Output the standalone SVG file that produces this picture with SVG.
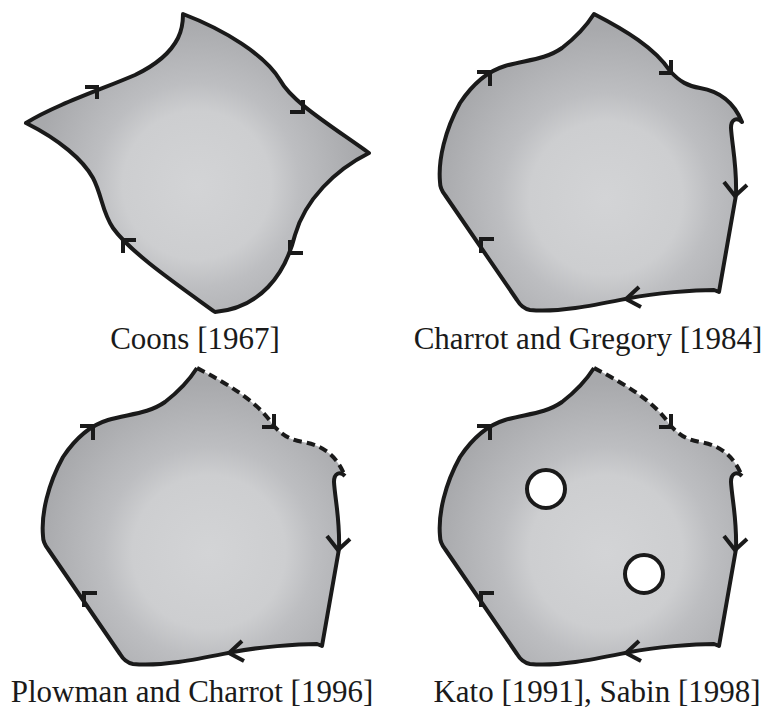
<svg xmlns="http://www.w3.org/2000/svg" xmlns:xlink="http://www.w3.org/1999/xlink" width="774" height="710" viewBox="0 0 774 710">
<style>
.shape{stroke:#1a1a1a;stroke-width:4;stroke-linejoin:round;stroke-linecap:round}
.fillonly{stroke:none}
.edge{fill:none;stroke:#1a1a1a;stroke-width:4;stroke-linejoin:round;stroke-linecap:butt}
.dashed{stroke-dasharray:8.5 5}
.arrow{fill:none;stroke:#1a1a1a;stroke-width:4;stroke-linejoin:miter;stroke-linecap:butt}
.hole{fill:#ffffff;stroke:#1a1a1a;stroke-width:4}
.label{font-family:"Liberation Serif","Times New Roman",serif;font-size:31px;fill:#1a1a1a;text-anchor:middle}
</style>
<defs>
<radialGradient id="gCoons" gradientUnits="userSpaceOnUse" cx="197" cy="185" r="165">
<stop offset="0" stop-color="#d3d4d6"/>
<stop offset="0.45" stop-color="#cdced0"/>
<stop offset="0.62" stop-color="#bdbec1"/>
<stop offset="1" stop-color="#a8a9ac"/>
</radialGradient>
<radialGradient id="gCG" gradientUnits="userSpaceOnUse" cx="606" cy="198" r="170">
<stop offset="0" stop-color="#d3d4d6"/>
<stop offset="0.45" stop-color="#cdced0"/>
<stop offset="0.62" stop-color="#bdbec1"/>
<stop offset="1" stop-color="#a8a9ac"/>
</radialGradient>
<path id="cgOutline" d="M594,14 C625,30 655,48 670,71 C680,82 688,86 700,88 C718,91 733,100 742,122 C737,117 731,119 731,128 C732,145 737,165 736,195 L719,292 L714,290 C695,290 655,293 630,298 C600,304 560,313 530,310 C524,309 520,305 517,300 L445,195 C441,190 440,186 440,182 C438,160 445,130 460,103 C470,88 485,72 505,66 C525,60 545,60 562,48 C575,38 587,25 594,14 Z"/>
<path id="cgTop" d="M594,14 C625,30 655,48 670,71 C680,82 688,86 700,88 C718,91 733,100 742,122"/>
<path id="cgRest" d="M742,122 C737,117 731,119 731,128 C732,145 737,165 736,195 L719,292 L714,290 C695,290 655,293 630,298 C600,304 560,313 530,310 C524,309 520,305 517,300 L445,195 C441,190 440,186 440,182 C438,160 445,130 460,103 C470,88 485,72 505,66 C525,60 545,60 562,48 C575,38 587,25 594,14"/>
<g id="cgArrows">
<path class="arrow" d="M477,72 L490,72 L490,86"/>
<path class="arrow" d="M659,73 L671,73 L671,60"/>
<path class="arrow" d="M724,182 L735,196 L747,185"/>
<path class="arrow" d="M639,287 L626,299 L641,307"/>
<path class="arrow" d="M494,239 L481,239 L481,253"/>
</g>
</defs>

<g id="coons">
<path class="shape" fill="url(#gCoons)" d="M183,14 C225,30 265,55 280,80 C292,102 330,125 369,153 C335,170 305,200 295,235 C285,275 260,308 215,312 C175,283 130,252 113,228 C102,212 102,195 93,178 C83,160 60,140 26,123 C55,105 100,90 135,75 C160,63 172,50 178,38 C182,30 183,20 183,14 Z"/>
<path class="arrow" d="M85,87 L97,87 L97,99"/>
<path class="arrow" d="M290,112 L303,112 L303,100"/>
<path class="arrow" d="M290,240 L290,253 L303,253"/>
<path class="arrow" d="M136,240 L123,240 L123,253"/>
<text class="label" x="195" y="349">Coons [1967]</text>
</g>

<g id="charrot-gregory">
<use xlink:href="#cgOutline" class="shape" fill="url(#gCG)"/>
<use xlink:href="#cgArrows"/>
<text class="label" x="588" y="349">Charrot and Gregory [1984]</text>
</g>

<g id="plowman-charrot">
<g transform="translate(-397,354)">
<use xlink:href="#cgOutline" class="fillonly" fill="url(#gCG)"/>
<use xlink:href="#cgRest" class="edge"/>
<use xlink:href="#cgTop" class="edge dashed"/>
<use xlink:href="#cgArrows"/>
</g>
<text class="label" x="192" y="702">Plowman and Charrot [1996]</text>
</g>

<g id="kato-sabin">
<g transform="translate(0,354)">
<use xlink:href="#cgOutline" class="fillonly" fill="url(#gCG)"/>
<use xlink:href="#cgRest" class="edge"/>
<use xlink:href="#cgTop" class="edge dashed"/>
<use xlink:href="#cgArrows"/>
</g>
<circle class="hole" cx="546" cy="489" r="19"/>
<circle class="hole" cx="644" cy="574" r="19"/>
<text class="label" x="597" y="702">Kato [1991], Sabin [1998]</text>
</g>
</svg>
